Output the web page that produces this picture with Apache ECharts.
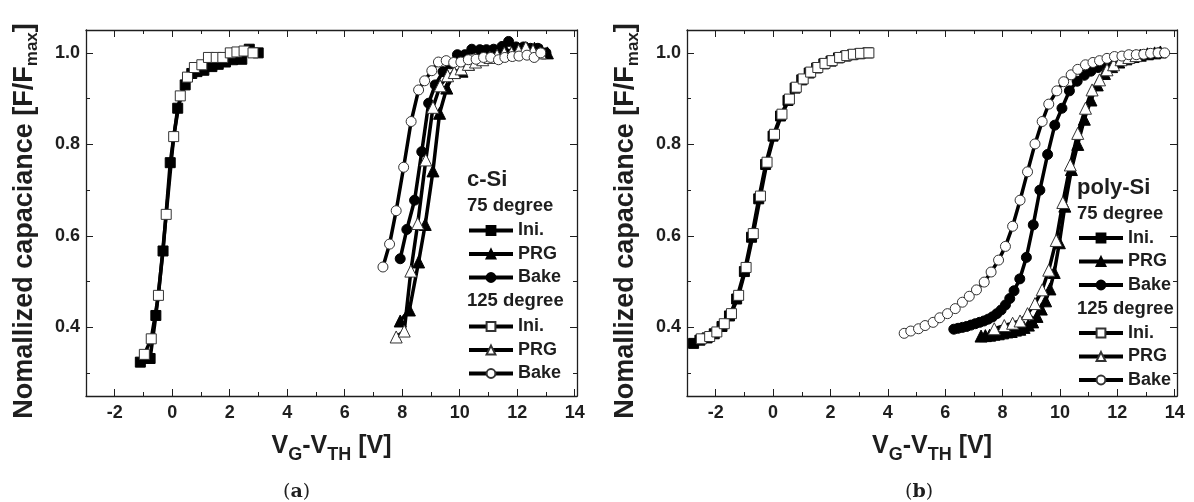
<!DOCTYPE html>
<html>
<head>
<meta charset="utf-8">
<script src="https://cdn.jsdelivr.net/npm/echarts@6/dist/echarts.min.js"></script>
<style>
  html, body { margin: 0; padding: 0; background: #fff; }
  #chart { width: 1194px; height: 502px; }
</style>
</head>
<body>
<div id="chart"></div>
<script>
// tick labels
const xTicks = [-2, 0, 2, 4, 6, 8, 10, 12, 14];
const xMinor = [-1, 1, 3, 5, 7, 9, 11, 13];
const yTicks = [0.4, 0.6, 0.8, 1.0];
const yMinor = [0.3, 0.5, 0.7, 0.9];

// (a) c-Si
const cIni75 = [[-1.11,0.324],[-0.77,0.332],[-0.57,0.426],[-0.32,0.567],[-0.07,0.76],[0.19,0.879],[0.45,0.93],[0.68,0.955],[0.86,0.959],[1.1,0.962],[1.38,0.97],[1.6,0.975],[1.85,0.98],[2.1,0.985],[2.42,0.986],[2.68,1.008],[2.99,1.0]];
const cPrg75 = [[7.93,0.414],[8.25,0.438],[8.57,0.543],[8.8,0.625],[9.07,0.742],[9.3,0.868],[9.55,0.923],[9.81,0.957],[10.08,0.96],[10.3,0.975],[10.55,0.985],[10.8,0.99],[11.1,0.995],[11.35,1.0],[11.6,1.005],[11.85,1.005],[12.1,1.008],[12.35,1.01],[12.6,1.01],[12.85,1.005],[13.05,1.0]];
const cBake75 = [[7.93,0.55],[8.16,0.614],[8.43,0.678],[8.68,0.784],[8.92,0.89],[9.15,0.93],[9.42,0.959],[9.67,0.976],[9.92,0.996],[10.18,0.996],[10.42,1.008],[10.7,1.007],[10.93,1.007],[11.18,1.008],[11.47,1.014],[11.7,1.025],[11.96,1.013],[12.22,1.013],[12.46,1.01],[12.72,1.01],[13.0,1.0]];
const cIni125 = [[-0.97,0.341],[-0.73,0.375],[-0.48,0.47],[-0.21,0.647],[0.05,0.817],[0.28,0.906],[0.53,0.947],[0.77,0.968],[1.03,0.974],[1.26,0.99],[1.53,0.99],[1.76,0.99],[2.02,1.0],[2.25,1.002],[2.5,1.004],[2.81,1.0]];
const cPrg125 = [[7.79,0.379],[8.07,0.392],[8.3,0.523],[8.54,0.627],[8.82,0.766],[9.07,0.881],[9.32,0.928],[9.58,0.95],[9.81,0.957],[10.05,0.965],[10.3,0.975],[10.55,0.98],[10.8,0.985],[11.05,0.99],[11.3,0.995],[11.55,1.0],[11.8,1.0],[12.05,1.005],[12.3,1.012],[12.55,1.005],[12.8,1.0]];
const cBake125 = [[7.33,0.532],[7.56,0.582],[7.79,0.655],[8.05,0.75],[8.31,0.85],[8.57,0.919],[8.78,0.939],[9.03,0.961],[9.26,0.98],[9.53,0.983],[9.79,0.979],[10.04,0.98],[10.3,0.985],[10.57,0.986],[10.83,0.99],[11.08,0.99],[11.35,0.985],[11.57,0.99],[11.83,0.992],[12.06,0.993],[12.34,0.995],[12.59,0.99],[12.82,1.0]];

// (b) poly-Si
const pIni75 = [[-2.77,0.365],[-2.55,0.372],[-2.3,0.377],[-2.05,0.386],[-1.78,0.402],[-1.52,0.425],[-1.27,0.462],[-1.0,0.522],[-0.75,0.597],[-0.5,0.681],[-0.26,0.756],[0.0,0.818],[0.26,0.862],[0.52,0.896],[0.77,0.923],[1.0,0.941],[1.26,0.956],[1.52,0.967],[1.77,0.976],[2.02,0.982],[2.28,0.989],[2.53,0.993],[2.77,0.996],[3.02,0.998],[3.3,1.0]];
const pPrg75 = [[7.25,0.381],[7.4,0.382],[7.55,0.383],[7.7,0.385],[7.85,0.386],[8.0,0.388],[8.15,0.39],[8.3,0.391],[8.45,0.394],[8.6,0.396],[8.75,0.4],[8.9,0.405],[9.05,0.412],[9.2,0.424],[9.35,0.44],[9.5,0.458],[9.65,0.484],[9.8,0.52],[9.98,0.585],[10.17,0.665],[10.4,0.745],[10.62,0.8],[10.85,0.855],[11.08,0.897],[11.3,0.93],[11.55,0.955],[11.8,0.97],[12.05,0.98],[12.3,0.987],[12.55,0.992],[12.8,0.995],[13.05,0.998],[13.3,1.0],[13.5,1.002]];
const pBake75 = [[6.3,0.396],[6.45,0.398],[6.6,0.4],[6.75,0.402],[6.9,0.405],[7.05,0.408],[7.2,0.411],[7.35,0.414],[7.5,0.418],[7.65,0.423],[7.8,0.43],[7.95,0.438],[8.1,0.449],[8.25,0.463],[8.4,0.48],[8.6,0.506],[8.83,0.553],[9.07,0.624],[9.3,0.7],[9.57,0.778],[9.82,0.842],[10.07,0.879],[10.33,0.917],[10.6,0.938],[10.85,0.951],[11.08,0.96],[11.33,0.968],[11.6,0.976],[11.85,0.981],[12.1,0.985],[12.37,0.99],[12.63,0.992],[12.9,0.995],[13.15,0.997],[13.44,1.0]];
const pIni125 = [[-2.5,0.375],[-2.21,0.38],[-1.96,0.39],[-1.7,0.408],[-1.45,0.43],[-1.2,0.47],[-0.94,0.531],[-0.69,0.605],[-0.44,0.687],[-0.21,0.761],[0.05,0.822],[0.31,0.866],[0.57,0.899],[0.81,0.925],[1.05,0.943],[1.31,0.958],[1.56,0.968],[1.81,0.977],[2.06,0.983],[2.32,0.99],[2.57,0.994],[2.8,0.997],[3.05,0.999],[3.34,1.0]];
const pPrg125 = [[7.71,0.397],[8.06,0.404],[8.35,0.409],[8.61,0.414],[8.87,0.43],[9.13,0.452],[9.38,0.482],[9.61,0.525],[9.87,0.59],[10.1,0.673],[10.36,0.755],[10.62,0.824],[10.89,0.879],[11.12,0.919],[11.38,0.941],[11.64,0.963],[11.87,0.974],[12.13,0.985],[12.4,0.99],[12.65,0.994]];
const pBake125 = [[4.57,0.387],[4.8,0.392],[5.07,0.397],[5.3,0.404],[5.58,0.411],[5.81,0.421],[6.08,0.43],[6.35,0.441],[6.6,0.455],[6.84,0.468],[7.09,0.482],[7.36,0.499],[7.6,0.521],[7.86,0.547],[8.1,0.577],[8.35,0.621],[8.61,0.678],[8.87,0.74],[9.13,0.801],[9.38,0.85],[9.61,0.888],[9.89,0.917],[10.13,0.937],[10.39,0.952],[10.62,0.964],[10.89,0.974],[11.15,0.979],[11.38,0.983],[11.64,0.988],[11.9,0.992],[12.16,0.993],[12.4,0.996],[12.66,0.996],[12.92,0.997],[13.16,0.999],[13.42,1.0],[13.65,1.0]];

const ink = '#1e1e1e';
const font = 'Liberation Sans, Arial, sans-serif';

function xAxes(g) {
  const base = { gridIndex: g, type: 'value', min: -3, max: 14.08, splitLine: { show: false } };
  const line = { show: true, onZero: false, lineStyle: { color: ink, width: 1.3 } };
  return [
    {
      ...base, position: 'bottom', axisLine: line,
      axisTick: { inside: true, length: 7, customValues: xTicks, lineStyle: { color: ink } },
      axisLabel: { customValues: xTicks, margin: 8, color: ink, fontSize: 18, fontWeight: 'bold', fontFamily: font },
      name: '{b|V}{s|G}{b|-V}{s|TH}{b| [V]}', nameLocation: 'middle', nameGap: 35,
      nameTextStyle: {
        rich: {
          b: { fontSize: 25, fontWeight: 'bold', color: ink, fontFamily: font, lineHeight: 30 },
          s: { fontSize: 18, fontWeight: 'bold', color: ink, fontFamily: font, padding: [18, 0, 0, 0], lineHeight: 30 }
        }
      }
    },
    { ...base, position: 'bottom', axisLine: { show: false, onZero: false },
      axisTick: { inside: true, length: 4, customValues: xMinor, lineStyle: { color: ink } }, axisLabel: { show: false } },
    { ...base, position: 'top', axisLine: line,
      axisTick: { inside: true, length: 7, customValues: xTicks, lineStyle: { color: ink } }, axisLabel: { show: false } },
    { ...base, position: 'top', axisLine: { show: false, onZero: false },
      axisTick: { inside: true, length: 4, customValues: xMinor, lineStyle: { color: ink } }, axisLabel: { show: false } }
  ];
}

function yAxes(g) {
  const base = { gridIndex: g, type: 'value', min: 0.25, max: 1.05, splitLine: { show: false } };
  const line = { show: true, onZero: false, lineStyle: { color: ink, width: 1.3 } };
  return [
    {
      ...base, position: 'left', axisLine: line,
      axisTick: { inside: true, length: 7, customValues: yTicks, lineStyle: { color: ink } },
      axisLabel: { customValues: yTicks, margin: 6, color: ink, fontSize: 18, fontWeight: 'bold', fontFamily: font,
        formatter: v => v.toFixed(1) }
    },
    { ...base, position: 'left', axisLine: { show: false, onZero: false },
      axisTick: { inside: true, length: 4, customValues: yMinor, lineStyle: { color: ink } }, axisLabel: { show: false } },
    { ...base, position: 'right', axisLine: line,
      axisTick: { inside: true, length: 7, customValues: yTicks, lineStyle: { color: ink } }, axisLabel: { show: false } },
    { ...base, position: 'right', axisLine: { show: false, onZero: false },
      axisTick: { inside: true, length: 4, customValues: yMinor, lineStyle: { color: ink } }, axisLabel: { show: false } }
  ];
}

function curve(name, data, g, symbol, filled) {
  const size = symbol === 'triangle' ? 12 : 10;
  return {
    name: name, type: 'line', data: data,
    xAxisIndex: g * 4, yAxisIndex: g * 4,
    symbol: symbol, symbolSize: size, showSymbol: true,
    lineStyle: { color: '#000', width: 3.5 },
    itemStyle: { color: filled ? '#000' : '#fff', borderColor: filled ? '#000' : '#333', borderWidth: 1 },
    animation: false
  };
}

function legendBlock(names, left, top) {
  return {
    data: names, orient: 'vertical', left: left, top: top, padding: 0,
    itemWidth: 44, itemHeight: 11, itemGap: 3.5, selectedMode: false,
    lineStyle: { width: 4, color: '#000' },
    formatter: n => n.split(' ')[1],
    textStyle: { fontSize: 18, fontWeight: 'bold', color: ink, fontFamily: font, lineHeight: 20 }
  };
}

function header(text, x, y, size) {
  return { type: 'text', left: x, top: y,
    style: { text: text, fill: ink, font: 'bold ' + size + 'px ' + font } };
}

function yTitle(x) {
  return {
    type: 'text', x: x, y: 221, rotation: Math.PI / 2,
    style: {
      text: '{b|Nomallized capaciance [F/F}{s|max}{b|]}',
      align: 'center', verticalAlign: 'middle',
      rich: {
        b: { fontSize: 27, fontWeight: 'bold', fill: ink, fontFamily: font, lineHeight: 32 },
        s: { fontSize: 17, fontWeight: 'bold', fill: ink, fontFamily: font, padding: [14, 0, 0, 0], lineHeight: 32 }
      }
    }
  };
}

function caption(letter, x) {
  return {
    type: 'text', left: x, top: 483,
    style: {
      text: '{n|(}{b|' + letter + '}{n|)}',
      rich: {
        n: { fontSize: 19, fill: ink, fontFamily: 'DejaVu Serif, serif' },
        b: { fontSize: 19, fontWeight: 'bold', fill: ink, fontFamily: 'DejaVu Serif, serif' }
      }
    }
  };
}

const chart = echarts.init(document.getElementById('chart'));
chart.setOption({
  backgroundColor: '#ffffff',
  animation: false,
  grid: [
    { left: 86, top: 30, width: 491, height: 366 },
    { left: 687, top: 30, width: 490, height: 366 }
  ],
  xAxis: [...xAxes(0), ...xAxes(1)],
  yAxis: [...yAxes(0), ...yAxes(1)],
  legend: [
    legendBlock(['c75 Ini.', 'c75 PRG', 'c75 Bake'], 467, 220.5),
    legendBlock(['c125 Ini.', 'c125 PRG', 'c125 Bake'], 467, 316.5),
    legendBlock(['p75 Ini.', 'p75 PRG', 'p75 Bake'], 1077, 228),
    legendBlock(['p125 Ini.', 'p125 PRG', 'p125 Bake'], 1077, 323)
  ],
  graphic: [
    header('c-Si', 467, 169, 22),
    header('75 degree', 467, 196, 18.5),
    header('125 degree', 467, 291, 18.5),
    header('poly-Si', 1077, 177, 22),
    header('75 degree', 1077, 204, 18.5),
    header('125 degree', 1077, 299, 18.5),
    yTitle(25),
    yTitle(626),
    caption('a', 283),
    caption('b', 905)
  ],
  series: [
    curve('c75 Ini.', cIni75, 0, 'rect', true),
    curve('c75 PRG', cPrg75, 0, 'triangle', true),
    curve('c75 Bake', cBake75, 0, 'circle', true),
    curve('c125 Ini.', cIni125, 0, 'rect', false),
    curve('c125 PRG', cPrg125, 0, 'triangle', false),
    curve('c125 Bake', cBake125, 0, 'circle', false),
    curve('p75 Ini.', pIni75, 1, 'rect', true),
    curve('p75 PRG', pPrg75, 1, 'triangle', true),
    curve('p75 Bake', pBake75, 1, 'circle', true),
    curve('p125 Ini.', pIni125, 1, 'rect', false),
    curve('p125 PRG', pPrg125, 1, 'triangle', false),
    curve('p125 Bake', pBake125, 1, 'circle', false)
  ]
});
</script>
</body>
</html>
